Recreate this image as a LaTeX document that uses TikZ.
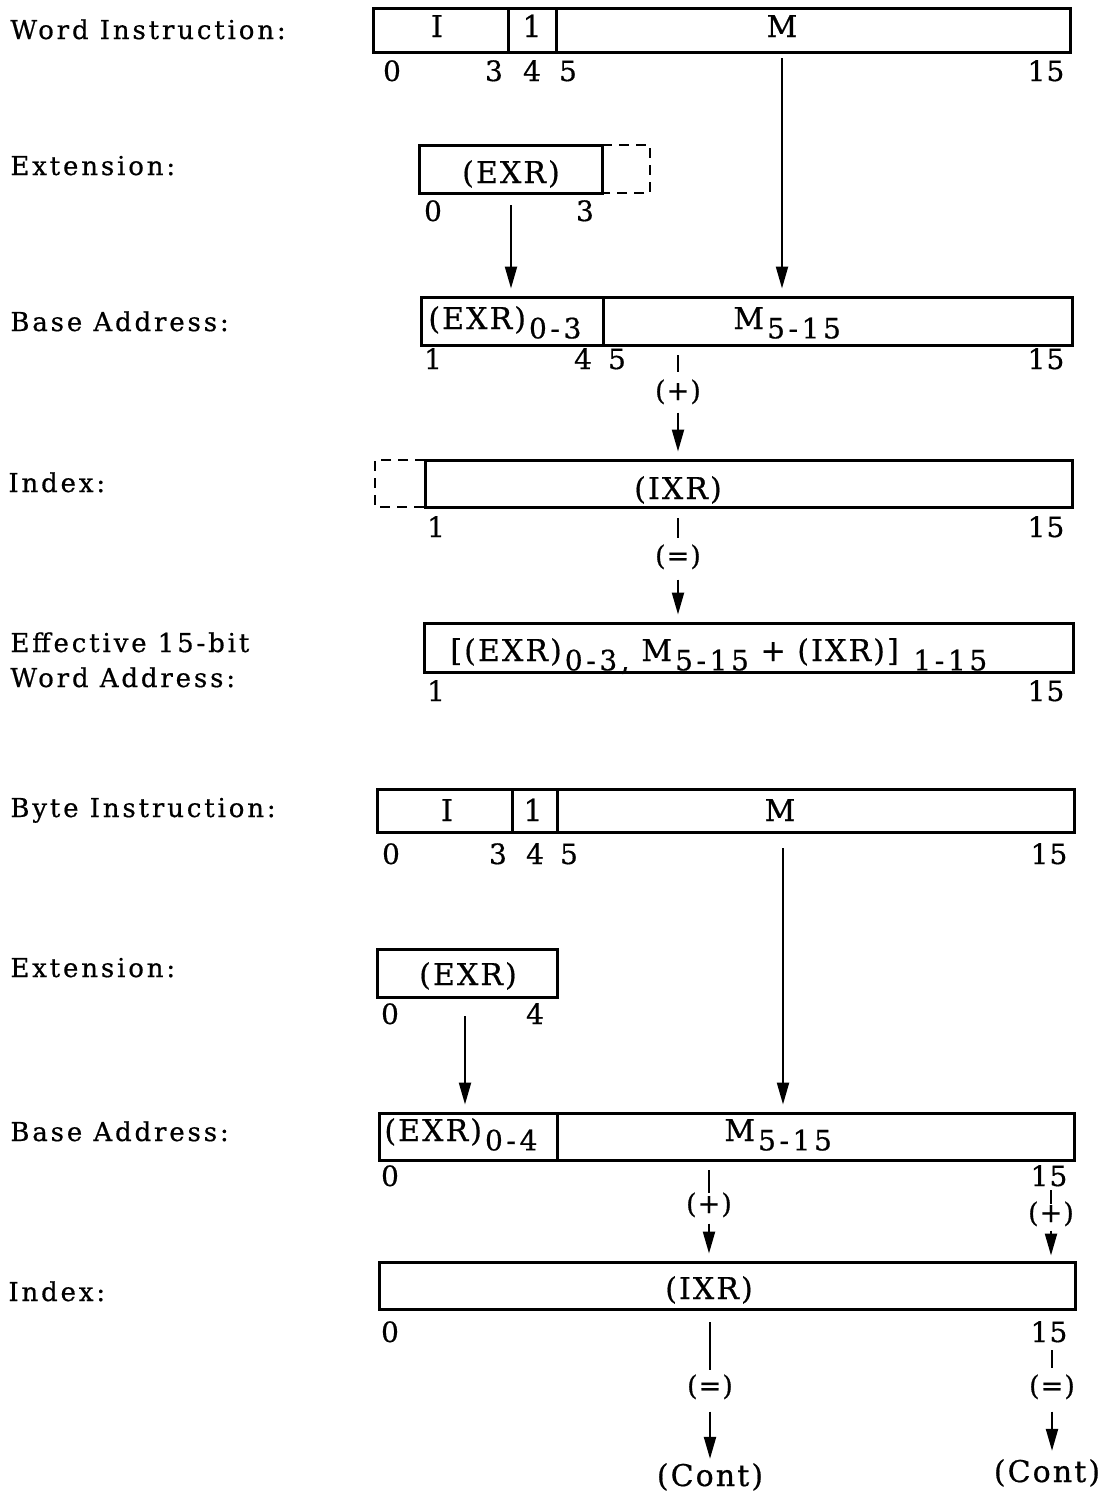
\documentclass[tikz,border=0pt]{standalone}
\usepackage{fontspec}
\setmainfont{DejaVu Serif}[LetterSpace=4]
\newfontfamily\lblfam{DejaVu Serif}[LetterSpace=11, FakeBold=0.6]
\newfontfamily\txtfam{DejaVu Serif}[LetterSpace=7, FakeBold=0.6]
\newfontfamily\subfam{DejaVu Serif}[LetterSpace=13, FakeBold=0.6]
\newfontfamily\numfam{DejaVu Serif}[LetterSpace=4, FakeBold=0.6]
\usetikzlibrary{arrows.meta,fit}
\newcommand\lblF{\lblfam\fontsize{13}{15}\selectfont}
\newcommand\txtF{\txtfam\fontsize{15}{17}\selectfont}
\newcommand\numF{\numfam\fontsize{14}{16}\selectfont}
\newcommand\opF{\numfam\fontsize{13.5}{15}\selectfont}
\newcommand\subx[1]{\hspace{1.5pt}\raisebox{-0.6ex}{\subfam\fontsize{14}{16}\selectfont #1}}
\begin{document}
\begin{tikzpicture}[x=0.5pt,y=-0.5pt,
 fld/.style={draw, line width=1.5pt, inner sep=0pt},
 dsh/.style={line width=1.3pt, dash pattern=on 5pt off 3.5pt},
 conn/.style={line width=1.1pt, -{Triangle[length=11pt,width=6pt]}},
 tickl/.style={line width=1.1pt},
 lbl/.style={anchor=base west, inner sep=0pt, font=\lblF},
 txt/.style={anchor=base, inner sep=0pt, font=\txtF},
 txtw/.style={anchor=base west, inner sep=0pt, font=\txtF},
 num/.style={anchor=base, inner sep=0pt, font=\numF},
 op/.style={anchor=base, inner sep=0pt, font=\opF}]
\useasboundingbox (0,0) rectangle (1098,1495);
\fill[white] (0,0) rectangle (1098,1495);

% ---------- Word instruction ----------
\node[lbl] (lWI) at (10,39) {Word Instruction:};
\node[fld, fit={(373,8)(508,52)}] (wI) {};
\node[fld, fit={(508,8)(556,52)}] (wOne) {};
\node[fld, fit={(556,8)(1070,52)}] (wM) {};
\node[txt] (tWI) at (437,37) {I};
\node[txt] (tWOne) at (532,37) {1};
\node[txt] (tWM) at (782,37) {M};
\node[num] (n1a) at (392,81) {0};
\node[num] (n1b) at (494,81) {3};
\node[num] (n1c) at (532,81) {4};
\node[num] (n1d) at (568,81) {5};
\node[num] (n1e) at (1046,81) {15};

% ---------- Extension ----------
\node[lbl] (lE1) at (10,175) {Extension:};
\node[fld, fit={(419,145)(602,193)}] (e1) {};
\draw[dsh] (602,145) -- (650,145) -- (650,193) -- (602,193);
\node[txt] (tE1) at (511,183) {(EXR)};
\node[num] (n2a) at (433,221) {0};
\node[num] (n2b) at (585,221) {3};

% ---------- Base address ----------
\node[lbl] (lB1) at (10,331) {Base Address:};
\node[fld, fit={(421,297)(603,345)}] (b1a) {};
\node[fld, fit={(603,297)(1072,345)}] (b1b) {};
\node[txtw] (tB1a) at (428,329) {(EXR)\subx{0-3}};
\node[txtw] (tB1b) at (733,329) {M\subx{5-15}};
\node[num] (n3a) at (433,369) {1};
\node[num] (n3b) at (583,369) {4};
\node[num] (n3c) at (617,369) {5};
\node[num] (n3d) at (1046,369) {15};

\coordinate (sM1) at (782,58);
\coordinate (sE1) at (511,205);
\draw[conn] (sE1) -- ([yshift=3.5pt]sE1 |- b1a.north);
\draw[conn] (sM1) -- ([yshift=3.5pt]sM1 |- b1b.north);

% ---------- Index ----------
\node[op] (pl1) at (678,400) {(+)};
\draw[tickl] (678,355) -- (678,372);
\node[lbl] (lI1) at (8,492) {Index:};
\node[fld, fit={(425,460)(1072,507)}] (i1) {};
\draw[dsh] (425,460) -- (375,460) -- (375,507) -- (425,507);
\node[txt] (tI1) at (678,499) {(IXR)};
\draw[conn] ([yshift=-4pt]pl1.south) -- ([yshift=3.5pt]pl1.south |- i1.north);
\node[num] (n4a) at (436,537) {1};
\node[num] (n4b) at (1046,537) {15};

% ---------- Effective ----------
\node[op] (eq1) at (678,565) {(=)};
\draw[tickl] (678,518) -- (678,538);
\node[lbl] (lEA1) at (10,652) {Effective 15-bit};
\node[lbl] (lEA2) at (10,687) {Word Address:};
\node[fld, fit={(424,623)(1073,672)}] (ea) {};
\draw[conn] ([yshift=-5pt]eq1.south) -- ([yshift=3.5pt]eq1.south |- ea.north);
\node[txtw] (tEA) at (450,661) {[(EXR)\subx{0-3,} M\subx{5-15} + (IXR)] \subx{1-15}};
\node[num] (n5a) at (436,701) {1};
\node[num] (n5b) at (1046,701) {15};

% ---------- Byte instruction ----------
\node[lbl] (lBI) at (10,817) {Byte Instruction:};
\node[fld, fit={(377,789)(512,832)}] (bI) {};
\node[fld, fit={(512,789)(557,832)}] (bOne) {};
\node[fld, fit={(557,789)(1074,832)}] (bM) {};
\node[txt] (tBI) at (447,821) {I};
\node[txt] (tBOne) at (533,821) {1};
\node[txt] (tBM) at (780,821) {M};
\node[num] (n6a) at (391,864) {0};
\node[num] (n6b) at (498,864) {3};
\node[num] (n6c) at (535,864) {4};
\node[num] (n6d) at (569,864) {5};
\node[num] (n6e) at (1049,864) {15};

% ---------- Extension (byte) ----------
\node[lbl] (lE2) at (10,977) {Extension:};
\node[fld, fit={(377,949)(557,997)}] (e2) {};
\node[txt] (tE2) at (468,985) {(EXR)};
\node[num] (n7a) at (390,1024) {0};
\node[num] (n7b) at (535,1024) {4};

% ---------- Base address (byte) ----------
\node[lbl] (lB2) at (10,1141) {Base Address:};
\node[fld, fit={(379,1113)(557,1160)}] (b2a) {};
\node[fld, fit={(557,1113)(1074,1160)}] (b2b) {};
\node[txtw] (tB2a) at (384,1141) {(EXR)\subx{0-4}};
\node[txtw] (tB2b) at (724,1141) {M\subx{5-15}};
\node[num] (n8a) at (390,1186) {0};
\node[num] (n8b) at (1049,1186) {15};
\coordinate (sM2) at (783,848);
\coordinate (sE2) at (465,1016);
\draw[conn] (sM2) -- ([yshift=3.5pt]sM2 |- b2b.north);
\draw[conn] (sE2) -- ([yshift=3.5pt]sE2 |- b2a.north);

% ---------- Index (byte) ----------
\node[op] (pl2) at (709,1213) {(+)};
\draw[tickl] (709,1170) -- (709,1193);
\node[op] (pl3) at (1051,1222) {(+)};
\draw[tickl] (1051,1190) -- (1051,1204);
\node[lbl] (lI2) at (8,1301) {Index:};
\node[fld, fit={(379,1262)(1075,1309)}] (i2) {};
\node[txt] (tI2) at (709,1299) {(IXR)};
\draw[conn] ([yshift=-3pt]pl2.south) -- ([yshift=3.5pt]pl2.south |- i2.north);
\draw[conn] ([yshift=-2pt]pl3.south) -- ([yshift=2.5pt]pl3.south |- i2.north);
\node[num] (n9a) at (390,1342) {0};
\node[num] (n9b) at (1049,1342) {15};

% ---------- Continuations ----------
\node[op] (eq2) at (710,1395) {(=)};
\node[op] (eq3) at (1052,1395) {(=)};
\draw[tickl] (710,1322) -- (710,1370);
\draw[tickl] (1052,1350) -- (1052,1368);
\node[txt] (c1) at (710,1486) {(Cont)};
\node[txt] (c2) at (1047,1482) {(Cont)};
\draw[conn] ([yshift=-6pt]eq2.south) -- ([yshift=2pt]eq2.south |- c1.north);
\draw[conn] ([yshift=-6pt]eq3.south) -- ([yshift=4pt]eq3.south |- c2.north);
\end{tikzpicture}
\end{document}
